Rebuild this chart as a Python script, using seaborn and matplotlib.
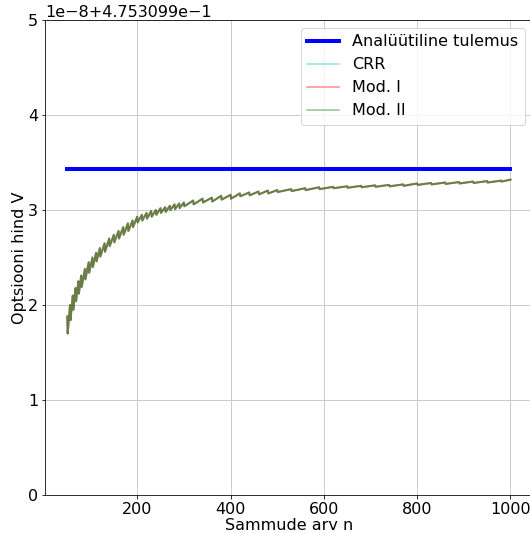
import numpy as np
import pandas as pd
import matplotlib
matplotlib.use("Agg")
import matplotlib.pyplot as plt
import seaborn as sns

# base level of the option price, values below are offsets in units of 1e-8
base_price = 0.4753099
scale = 1e-8

analytic_n = [50, 1000]
analytic_v = [3.43, 3.43]

# number of steps and price offsets (zigzag of the binomial tree)
steps_n = [50, 51, 56, 57, 62, 63, 68, 69, 74, 75, 80, 81, 88, 89, 96, 97,
           104, 105, 112, 113, 120, 121, 130, 131, 140, 141, 150, 151, 160, 161,
           170, 171, 180, 181, 190, 191,
           200, 201, 210, 211, 220, 221, 230, 231, 240, 241, 250, 251, 260, 261,
           270, 271, 280, 281, 290, 291,
           300, 301, 320, 321, 340, 341, 360, 361, 380, 381, 400, 401, 420, 421,
           440, 441, 460, 461, 480, 481,
           500, 501, 530, 531, 560, 561, 590, 591, 620, 621, 650, 651, 680, 681,
           710, 711, 740, 741, 770, 771, 800, 801, 830, 831, 860, 861, 890, 891,
           920, 921, 950, 951, 980, 981, 1000]
crr_v = [1.88, 1.70, 2.00, 1.84, 2.10, 1.95, 2.18, 2.04, 2.25, 2.12, 2.31, 2.19,
         2.38, 2.27, 2.45, 2.34, 2.50, 2.40, 2.55, 2.46, 2.60, 2.51, 2.65, 2.56,
         2.70, 2.62, 2.74, 2.66, 2.78, 2.70, 2.82, 2.74, 2.86, 2.78, 2.89, 2.82,
         2.93, 2.87, 2.95, 2.89, 2.97, 2.91, 2.99, 2.93, 3.00, 2.95, 3.02, 2.97,
         3.03, 2.98, 3.045, 3.00, 3.06, 3.01, 3.07, 3.02,
         3.08, 3.04, 3.10, 3.06, 3.12, 3.08, 3.13, 3.09, 3.15, 3.11, 3.16, 3.12,
         3.175, 3.145, 3.185, 3.155, 3.195, 3.165, 3.205, 3.175,
         3.21, 3.19, 3.22, 3.20, 3.23, 3.21, 3.24, 3.22, 3.245, 3.23, 3.25, 3.235,
         3.255, 3.24, 3.26, 3.245, 3.265, 3.25, 3.27, 3.255, 3.28, 3.265, 3.285, 3.27,
         3.29, 3.275, 3.295, 3.28, 3.30, 3.285, 3.305, 3.29, 3.31, 3.30, 3.32]
# the two modified schemes lie on top of CRR at this scale
mod1_v = list(crr_v)
mod2_v = list(crr_v)

y_ticks = [0, 1, 2, 3, 4, 5]

plt.rcParams['font.size'] = 16

fig = plt.figure(figsize=(530 / 72, 533 / 72), dpi=72)
ax = fig.add_axes([0.085, 0.0713, 0.92, 0.891])

sns.lineplot(x=analytic_n, y=base_price + np.array(analytic_v) * scale, ax=ax,
             color='blue', linewidth=4, label='Analüütiline tulemus', estimator=None)
for vals, col, name in [(crr_v, 'c', 'CRR'), (mod1_v, 'r', 'Mod. I'), (mod2_v, 'g', 'Mod. II')]:
    sns.lineplot(x=steps_n, y=base_price + np.array(vals) * scale, ax=ax,
                 color=col, alpha=0.45, linewidth=2.0, label=name, estimator=None, sort=False)

ax.set_yticks([base_price + t * scale for t in y_ticks])
ax.set_ylim(base_price, base_price + 5.00001 * scale)
ax.grid(True, color='#cccccc', linewidth=1)
ax.set_xlabel('Sammude arv n', labelpad=1)
ax.set_ylabel('Optsiooni hind V', labelpad=1)
leg = ax.legend(loc='upper right')
for line in leg.get_lines()[1:]:
    line.set_linewidth(1.5)

fig.savefig('out.png', dpi=72)
